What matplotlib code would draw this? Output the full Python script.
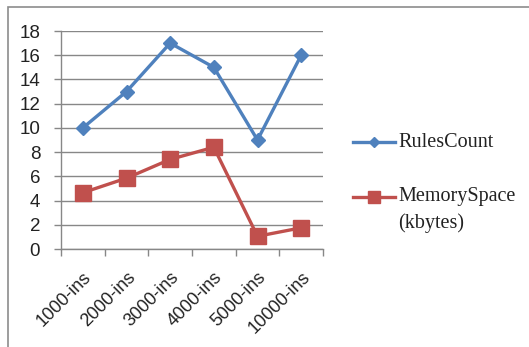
import matplotlib

matplotlib.use("Agg")
import matplotlib.pyplot as plt
import numpy as np
from matplotlib.lines import Line2D
from matplotlib.patches import Rectangle

categories = ["1000-ins", "2000-ins", "3000-ins", "4000-ins", "5000-ins", "10000-ins"]
rules_count = [10, 13, 17, 15, 9, 16]
memory_space = [4.65, 5.85, 7.4, 8.4, 1.05, 1.75]

BLUE, RED, GRID = "#4F81BD", "#C0504D", "#878787"
W, H = 529, 347

fig = plt.figure(figsize=(W / 100, H / 100), dpi=100)
fig.patch.set_facecolor("white")
# chart-area border (cut off at right / bottom like the screenshot)
fig.add_artist(Rectangle((8 / W, -0.05), 1.2, 1.05 - 7 / H, transform=fig.transFigure,
                         fill=False, edgecolor="#8c8c8c", lw=1.2))

ax = fig.add_axes([61 / W, 1 - 249 / H, 262 / W, 218 / H])
x = np.arange(len(categories))
ax.plot(x, rules_count, color=BLUE, lw=2.4, marker="D", ms=6.8, mec=BLUE)
ax.plot(x, memory_space, color=RED, lw=2.4, marker="s", ms=11, mec=RED)

ax.set_xlim(-0.5, len(categories) - 0.5)
ax.set_ylim(0, 18)
ax.set_yticks(range(0, 19, 2))
ax.yaxis.grid(True, color=GRID, lw=1)
ax.set_axisbelow(True)
for s in ("top", "right"):
    ax.spines[s].set_visible(False)
for s in ("left", "bottom"):
    ax.spines[s].set_color(GRID)
    ax.spines[s].set_linewidth(1)

ax.set_xticks(x)
ax.set_xticklabels(categories, rotation=45, ha="right", rotation_mode="anchor",
                   fontsize=13, family="Liberation Sans", color="#222222")
ax.set_xticks(np.arange(-0.5, len(categories)), minor=True)
ax.tick_params(axis="x", which="major", length=0, pad=14)
ax.tick_params(axis="x", which="minor", length=5, color=GRID, width=1)
ax.tick_params(axis="y", length=5, color=GRID, width=1, labelsize=13.5, labelcolor="#222222",
               pad=10)
for t in ax.get_yticklabels():
    t.set_family("Liberation Sans")

# legend, drawn by hand so the two-line label hangs below its handle
leg_font = {"family": "Liberation Serif", "size": 14.5, "color": "#222222"}
for yy, col, mk, ms in ((142, BLUE, "D", 5.5), (197, RED, "s", 8.5)):
    fy = 1 - yy / H
    fig.add_artist(Line2D([353 / W, 395 / W], [fy, fy], transform=fig.transFigure,
                          color=col, lw=2.4))
    fig.add_artist(Line2D([374 / W], [fy], transform=fig.transFigure, color=col,
                          marker=mk, ms=ms, mec=col))
fig.text(398 / W, 1 - 142 / H, "RulesCount", va="center", **leg_font)
fig.text(398 / W, 1 - 197 / H, "MemorySpace", va="center", **leg_font)
fig.text(398 / W, 1 - 223 / H, "(kbytes)", va="center", **leg_font)

fig.savefig("out.png", dpi=100, facecolor="white")
